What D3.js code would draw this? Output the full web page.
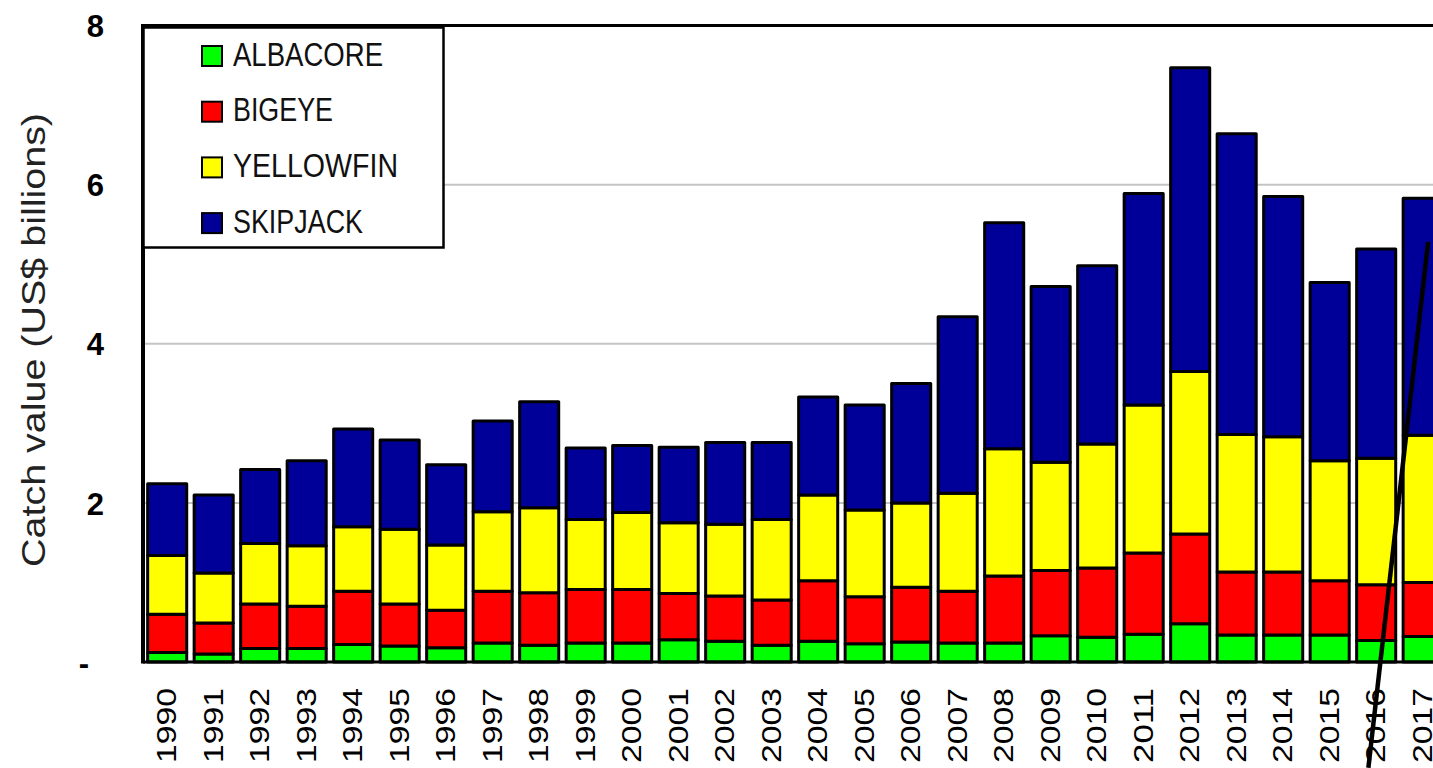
<!DOCTYPE html>
<html>
<head>
<meta charset="utf-8">
<script src="https://cdn.jsdelivr.net/npm/d3@7/dist/d3.min.js"></script>
<style>
  html, body { margin: 0; padding: 0; background: #fff; }
  svg { display: block; }
</style>
</head>
<body>
<svg id="chart" width="1433" height="768"></svg>
<script>
// Tuna catch value by species, US$ billions
const years = ["1990","1991","1992","1993","1994","1995","1996","1997","1998","1999",
  "2000","2001","2002","2003","2004","2005","2006","2007","2008","2009",
  "2010","2011","2012","2013","2014","2015","2016","2017"];
const albacore  = [0.12,0.10,0.17,0.17,0.22,0.20,0.18,0.24,0.21,0.24,0.24,0.28,0.26,0.21,0.26,0.23,0.25,0.24,0.24,0.33,0.31,0.35,0.48,0.34,0.34,0.34,0.27,0.32];
const bigeye    = [0.48,0.39,0.56,0.53,0.67,0.53,0.47,0.65,0.66,0.67,0.67,0.58,0.57,0.57,0.76,0.59,0.69,0.65,0.84,0.82,0.87,1.02,1.13,0.79,0.79,0.68,0.70,0.68];
const yellowfin = [0.74,0.63,0.76,0.76,0.81,0.94,0.82,1.00,1.07,0.88,0.97,0.89,0.90,1.01,1.08,1.09,1.06,1.23,1.60,1.36,1.56,1.86,2.04,1.73,1.70,1.51,1.59,1.85];
const skipjack  = [0.90,0.98,0.93,1.07,1.23,1.12,1.01,1.14,1.33,0.90,0.84,0.95,1.03,0.97,1.23,1.32,1.50,2.22,2.84,2.21,2.24,2.66,3.82,3.78,3.02,2.24,2.63,2.98];
const speciesNames = ["ALBACORE","BIGEYE","YELLOWFIN","SKIPJACK"];
const speciesColors = ["#00ff00","#ff0000","#ffff00","#000099"];
const yTicks = [0, 2, 4, 6, 8];
const axisTitle = "Catch value (US$ billions)";
// pointer line drawn over the last bars: [year, position within band, value]
const pointer = [["2016", 0.30, -1.33], ["2017", 0.64, 5.28]];

const seriesValues = [albacore, bigeye, yellowfin, skipjack];
const rows = years.map((yr, i) => {
  const r = { year: yr };
  speciesNames.forEach((s, k) => { r[s] = seriesValues[k][i]; });
  return r;
});

const svg = d3.select("#chart");
const W = 1433, H = 768;
const plotLeft = 143, plotTop = 25.5, plotBottom = 662;
const step = 46.5, padIn = 0.16, padOut = 0.1;
const plotRight = plotLeft + step * (years.length - padIn + 2 * padOut);

const x = d3.scaleBand().domain(years).range([plotLeft, plotRight]).paddingInner(padIn).paddingOuter(padOut);
const y = d3.scaleLinear().domain([0, 8]).range([plotBottom, plotTop]);
const color = d3.scaleOrdinal().domain(speciesNames).range(speciesColors);

// horizontal gridlines
svg.append("g")
  .selectAll("line").data(yTicks.filter(t => t > 0 && t < 8)).join("line")
  .attr("x1", plotLeft).attr("x2", W)
  .attr("y1", d => y(d)).attr("y2", d => y(d))
  .attr("stroke", "#c4c4c4").attr("stroke-width", 2);

// stacked bars
const stack = d3.stack().keys(speciesNames)(rows);
svg.append("g")
  .selectAll("g").data(stack).join("g")
  .attr("fill", d => color(d.key))
  .selectAll("rect").data(d => d).join("rect")
  .attr("x", d => x(d.data.year))
  .attr("width", x.bandwidth())
  .attr("y", d => y(d[1]))
  .attr("height", d => y(d[0]) - y(d[1]))
  .attr("stroke", "#000").attr("stroke-width", 3)
  .attr("stroke-linejoin", "round");

// plot frame
svg.append("line").attr("x1", plotLeft).attr("x2", W).attr("y1", plotTop).attr("y2", plotTop)
  .attr("stroke", "#000").attr("stroke-width", 3);
svg.append("line").attr("x1", plotLeft).attr("x2", W).attr("y1", plotBottom).attr("y2", plotBottom)
  .attr("stroke", "#000").attr("stroke-width", 3);
svg.append("line").attr("x1", plotLeft).attr("x2", plotLeft).attr("y1", plotTop - 1.5).attr("y2", plotBottom + 1.5)
  .attr("stroke", "#000").attr("stroke-width", 4);

// y axis labels
const yAxis = d3.axisLeft(y).tickValues(yTicks).tickSize(0).tickPadding(0)
  .tickFormat(d => d === 0 ? "-" : d3.format("d")(d));
const gy = svg.append("g").attr("transform", `translate(${plotLeft - 39},0)`).call(yAxis);
gy.select(".domain").remove();
gy.selectAll("text")
  .attr("font-family", "'Liberation Sans', Arial, sans-serif")
  .attr("font-weight", "bold").attr("font-size", 31).attr("fill", "#000")
  .attr("dy", "0.36em")
  .attr("dx", d => d === 0 ? -15 : 0);

// x axis labels
const xAxis = d3.axisBottom(x).tickSize(0).tickPadding(0);
const gx = svg.append("g").attr("transform", `translate(0,${plotBottom})`).call(xAxis);
gx.select(".domain").remove();
gx.selectAll("text")
  .attr("font-family", "'Liberation Sans', Arial, sans-serif")
  .attr("font-size", 27).attr("fill", "#000")
  .attr("text-anchor", "end")
  .attr("transform", "rotate(-90)")
  .attr("x", -26).attr("y", 0).attr("dy", "0.34em")
  .attr("textLength", 75).attr("lengthAdjust", "spacingAndGlyphs");

// y axis title
svg.append("text")
  .attr("transform", `translate(45,${(112 + 568) / 2}) rotate(-90)`)
  .attr("text-anchor", "middle")
  .attr("font-family", "'Liberation Sans', Arial, sans-serif")
  .attr("font-size", 34).attr("fill", "#222")
  .attr("textLength", 454).attr("lengthAdjust", "spacingAndGlyphs")
  .text(axisTitle);

// legend
const lg = svg.append("g");
lg.append("rect").attr("x", 143.5).attr("y", 27.5).attr("width", 300).attr("height", 220)
  .attr("fill", "#fff").attr("stroke", "#000").attr("stroke-width", 2.5);
const legendWidths = [150, 100, 165, 130];
const items = lg.selectAll("g.item").data(speciesNames).join("g").attr("class", "item")
  .attr("transform", (d, i) => `translate(202,${65.5 + i * 55.7})`);
items.append("rect").attr("x", 0).attr("y", -19.5).attr("width", 20).attr("height", 20)
  .attr("fill", d => color(d)).attr("stroke", "#000").attr("stroke-width", 2);
items.append("text").attr("x", 31).attr("y", 0)
  .attr("font-family", "'Liberation Sans', Arial, sans-serif")
  .attr("font-size", 33.5).attr("fill", "#111")
  .attr("textLength", (d, i) => legendWidths[i]).attr("lengthAdjust", "spacingAndGlyphs")
  .text(d => d);

// pointer line
const px = p => x(p[0]) + x.bandwidth() * p[1];
svg.append("line")
  .attr("x1", px(pointer[0])).attr("y1", y(pointer[0][2]))
  .attr("x2", px(pointer[1])).attr("y2", y(pointer[1][2]))
  .attr("stroke", "#000").attr("stroke-width", 4.5);
</script>
</body>
</html>
